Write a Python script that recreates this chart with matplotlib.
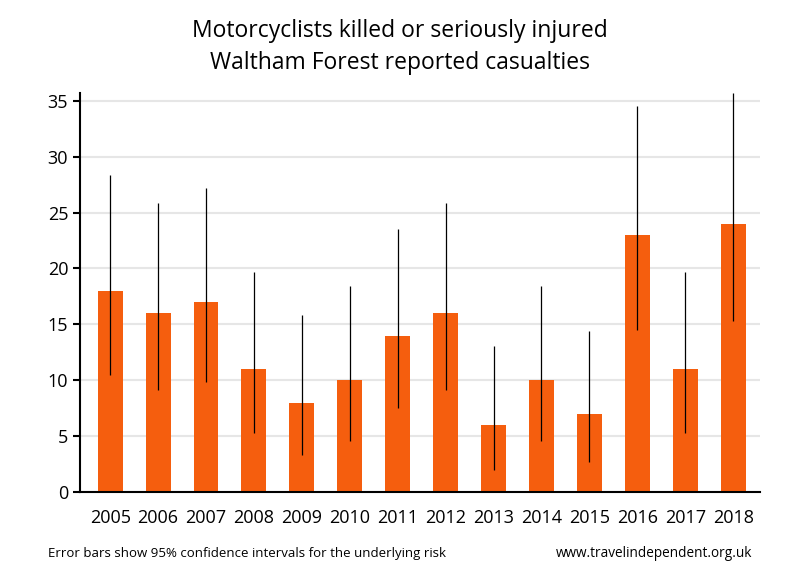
import matplotlib
matplotlib.use("Agg")
import matplotlib.pyplot as plt
import numpy as np

plt.rcParams['font.family'] = ['Open Sans', 'DejaVu Sans']

years = ['2005', '2006', '2007', '2008', '2009', '2010', '2011', '2012',
         '2013', '2014', '2015', '2016', '2017', '2018']
values = [18, 16, 17, 11, 8, 10, 14, 16, 6, 10, 7, 23, 11, 24]
ci_low = [10.5, 9.1, 9.8, 5.3, 3.3, 4.6, 7.5, 9.1, 2.0, 4.6, 2.7, 14.5, 5.3, 15.3]
ci_high = [28.4, 25.9, 27.2, 19.7, 15.8, 18.4, 23.5, 25.9, 13.1, 18.4, 14.4, 34.5, 19.7, 35.7]

fig = plt.figure(figsize=(8, 5.8), dpi=100)
ax = fig.add_axes([0.1, 0.1517, 0.85, 0.688])

x = np.arange(len(years))
ax.bar(x, values, width=0.52, color='#F55E0E', zorder=2)
ax.vlines(x, ci_low, ci_high, color='black', linewidth=0.9, zorder=3)

ax.set_ylim(0, 35.7)
ax.set_xlim(-0.63, 13.56)
ax.set_yticks([0, 5, 10, 15, 20, 25, 30, 35])
ax.set_xticks(x)
ax.set_xticklabels(years)
ax.yaxis.grid(True, color='#E6E6E6', linewidth=1.5, zorder=0)
ax.set_axisbelow(True)
for s in ['top', 'right']:
    ax.spines[s].set_visible(False)
ax.spines['left'].set_linewidth(1.5)
ax.spines['bottom'].set_linewidth(1.5)
ax.tick_params(axis='x', length=0, pad=12, labelsize=13)
ax.tick_params(axis='y', length=5, width=1.5, labelsize=13, direction='out')

fig.text(0.5, 0.947, 'Motorcyclists killed or seriously injured', ha='center', va='center', fontsize=16.5)
fig.text(0.5, 0.892, 'Waltham Forest reported casualties', ha='center', va='center', fontsize=16.5)
fig.text(0.06, 0.045, 'Error bars show 95% confidence intervals for the underlying risk', ha='left', va='center', fontsize=9.5)
fig.text(0.94, 0.045, 'www.travelindependent.org.uk', ha='right', va='center', fontsize=9.8)

fig.savefig('out.png', dpi=100)
